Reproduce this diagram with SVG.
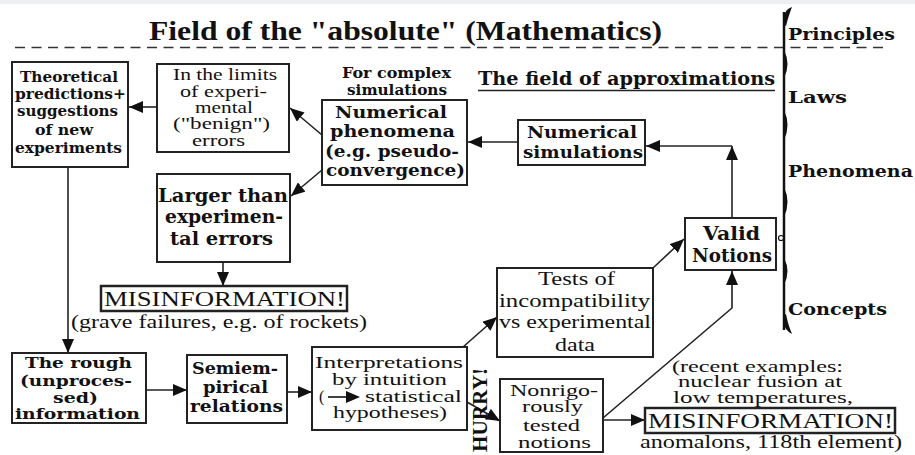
<svg xmlns="http://www.w3.org/2000/svg" width="915" height="455" viewBox="0 0 915 455">
<style>
.box{fill:#fff;stroke:#222;stroke-width:2}
.mis{fill:#fff;stroke:#222;stroke-width:2.5}
.b{font-family:"DejaVu Serif","Liberation Serif",serif;font-weight:bold;fill:#111}
.r{font-family:"Liberation Serif",serif;fill:#111}
.conn{stroke:#222;stroke-width:1.6;fill:none}
</style>
<defs>
<marker id="ah" viewBox="0 0 14 12" refX="14" refY="6" markerWidth="14" markerHeight="12" orient="auto" markerUnits="userSpaceOnUse"><path d="M0,0 L14,6 L0,12 z" fill="#111"/></marker>
</defs>
<rect x="0" y="0" width="915" height="455" fill="#fff"/>
<rect x="0" y="0" width="915" height="4" fill="#eceff2"/>

<g id="header">
<text class="b" x="149" y="40" font-size="28" textLength="513" lengthAdjust="spacingAndGlyphs" style="font-family:'Liberation Serif',serif">Field of the "absolute" (Mathematics)</text>
<line x1="15" y1="47.5" x2="883" y2="47.5" stroke="#333" stroke-width="1.6" stroke-dasharray="10,6.5"/>
<text class="b" x="478" y="85" font-size="18" textLength="297" lengthAdjust="spacingAndGlyphs">The field of approximations</text>
<line x1="478" y1="90.5" x2="775" y2="90.5" stroke="#222" stroke-width="1.5"/>
</g>

<g id="scale">
<line x1="784" y1="12" x2="784" y2="330" stroke="#111" stroke-width="2.5"/>
<path d="M783,24 C783,14 786,9 792,7 C790,12 788,18 786,26 z" fill="#111"/>
<path d="M784,50 Q791,64 784,78 z" fill="#111"/>
<path d="M784,110 Q791,125 784,140 z" fill="#111"/>
<path d="M784,187 Q791,202 784,217 z" fill="#111"/>
<path d="M784,258 Q791,271 784,285 z" fill="#111"/>
<path d="M783,316 C783,326 786,331 792,334 C790,329 788,324 786,314 z" fill="#111"/>
<circle cx="781" cy="238" r="2.5" fill="#fff" stroke="#111" stroke-width="1.2"/>
<text class="b" x="788" y="40" font-size="17" textLength="107" lengthAdjust="spacingAndGlyphs">Principles</text>
<text class="b" x="788" y="103" font-size="17" textLength="59" lengthAdjust="spacingAndGlyphs">Laws</text>
<text class="b" x="788" y="177" font-size="17" textLength="125" lengthAdjust="spacingAndGlyphs">Phenomena</text>
<text class="b" x="788" y="315" font-size="17" textLength="99" lengthAdjust="spacingAndGlyphs">Concepts</text>
</g>

<g id="connectors">
<path class="conn" d="M157,107 L129,107" marker-end="url(#ah)"/>
<path class="conn" d="M322,135 L290,108" marker-end="url(#ah)"/>
<path class="conn" d="M322,170 L291,196" marker-end="url(#ah)"/>
<path class="conn" d="M223,262 L223,286" marker-end="url(#ah)"/>
<path class="conn" d="M68,167 L68,353" marker-end="url(#ah)"/>
<path class="conn" d="M146,390 L187,390" marker-end="url(#ah)"/>
<path class="conn" d="M287,392 L312,392" marker-end="url(#ah)"/>
<path class="conn" d="M463,347 L497,317" marker-end="url(#ah)"/>
<path class="conn" d="M467,402 L500,421" marker-end="url(#ah)"/>
<path class="conn" d="M653,268 L684,239" marker-end="url(#ah)"/>
<path class="conn" d="M603,418 L732,308 L732,271" marker-end="url(#ah)"/>
<path class="conn" d="M603,420 L645,420" marker-end="url(#ah)"/>
<path class="conn" d="M518,142 L468,142" marker-end="url(#ah)"/>
<path class="conn" d="M732,218 L732,146" marker-end="url(#ah)"/>
<path class="conn" d="M732,146 L646,146" marker-end="url(#ah)"/>
</g>

<g id="theoretical">
<rect class="box" x="12" y="62" width="116" height="105"/>
<text class="b" font-size="15.5" x="20" y="82" textLength="98" lengthAdjust="spacingAndGlyphs">Theoretical</text>
<text class="b" font-size="15.5" x="15" y="99" textLength="111" lengthAdjust="spacingAndGlyphs">predictions+</text>
<text class="b" font-size="15.5" x="17" y="116" textLength="101" lengthAdjust="spacingAndGlyphs">suggestions</text>
<text class="b" font-size="15.5" x="35" y="135" textLength="58" lengthAdjust="spacingAndGlyphs">of new</text>
<text class="b" font-size="15.5" x="15" y="153" textLength="107" lengthAdjust="spacingAndGlyphs">experiments</text>
</g>

<g id="benign">
<rect class="box" x="157" y="64" width="132" height="88"/>
<text class="r" font-size="16" x="173" y="80" textLength="104" lengthAdjust="spacingAndGlyphs">In the limits</text>
<text class="r" font-size="16" x="180" y="97" textLength="87" lengthAdjust="spacingAndGlyphs">of experi-</text>
<text class="r" font-size="16" x="195" y="113" textLength="58" lengthAdjust="spacingAndGlyphs">mental</text>
<text class="r" font-size="16" x="173" y="129" textLength="97" lengthAdjust="spacingAndGlyphs">("benign")</text>
<text class="r" font-size="16" x="192" y="146" textLength="53" lengthAdjust="spacingAndGlyphs">errors</text>
</g>

<g id="numphen">
<text class="b" font-size="14" x="342" y="78" textLength="109" lengthAdjust="spacingAndGlyphs">For complex</text>
<text class="b" font-size="14" x="347" y="95" textLength="100" lengthAdjust="spacingAndGlyphs">simulations</text>
<rect class="box" x="322" y="100" width="145" height="85"/>
<text class="b" font-size="17.5" x="335" y="118" textLength="112" lengthAdjust="spacingAndGlyphs">Numerical</text>
<text class="b" font-size="17.5" x="330" y="137" textLength="125" lengthAdjust="spacingAndGlyphs">phenomena</text>
<text class="b" font-size="17.5" x="325" y="157" textLength="134" lengthAdjust="spacingAndGlyphs">(e.g. pseudo-</text>
<text class="b" font-size="17.5" x="326" y="176" textLength="139" lengthAdjust="spacingAndGlyphs">convergence)</text>
</g>

<g id="larger">
<rect class="box" x="157" y="174" width="133" height="88"/>
<text class="b" font-size="19" x="158" y="202" textLength="130" lengthAdjust="spacingAndGlyphs">Larger than</text>
<text class="b" font-size="19" x="165" y="223" textLength="118" lengthAdjust="spacingAndGlyphs">experimen-</text>
<text class="b" font-size="19" x="170" y="245" textLength="103" lengthAdjust="spacingAndGlyphs">tal errors</text>
</g>

<g id="misinfo1">
<rect class="mis" x="101" y="286" width="246" height="25"/>
<text class="r" font-size="22" x="104" y="306" textLength="241" lengthAdjust="spacingAndGlyphs">MISINFORMATION!</text>
<text class="r" font-size="18" x="71" y="328" textLength="296" lengthAdjust="spacingAndGlyphs">(grave failures, e.g. of rockets)</text>
</g>

<g id="rough">
<rect class="box" x="12" y="353" width="134" height="70"/>
<text class="b" font-size="15.5" x="25" y="368" textLength="107" lengthAdjust="spacingAndGlyphs">The rough</text>
<text class="b" font-size="15.5" x="20" y="386" textLength="112" lengthAdjust="spacingAndGlyphs">(unproces-</text>
<text class="b" font-size="15.5" x="53" y="403" textLength="45" lengthAdjust="spacingAndGlyphs">sed)</text>
<text class="b" font-size="15.5" x="15" y="419" textLength="125" lengthAdjust="spacingAndGlyphs">information</text>
</g>

<g id="semiempirical">
<rect class="box" x="187" y="355" width="100" height="68"/>
<text class="b" font-size="16.5" x="192" y="374" textLength="86" lengthAdjust="spacingAndGlyphs">Semiem-</text>
<text class="b" font-size="16.5" x="203" y="393" textLength="65" lengthAdjust="spacingAndGlyphs">pirical</text>
<text class="b" font-size="16.5" x="190" y="412" textLength="93" lengthAdjust="spacingAndGlyphs">relations</text>
</g>

<g id="interpretations">
<rect class="box" x="312" y="347" width="155" height="83"/>
<text class="r" font-size="16" x="315" y="368" textLength="148" lengthAdjust="spacingAndGlyphs">Interpretations</text>
<text class="r" font-size="16" x="332" y="385" textLength="115" lengthAdjust="spacingAndGlyphs">by intuition</text>
<text class="r" font-size="16" x="319" y="402">(</text>
<line x1="328" y1="397" x2="348" y2="397" stroke="#111" stroke-width="1.6"/>
<path d="M346,391 L360,397 L346,403 z" fill="#111"/>
<text class="r" font-size="16" x="365" y="402" textLength="97" lengthAdjust="spacingAndGlyphs">statistical</text>
<text class="r" font-size="16" x="333" y="418" textLength="114" lengthAdjust="spacingAndGlyphs">hypotheses)</text>
</g>

<g id="hurry">
<text class="b" font-size="21" transform="translate(487,452) rotate(-90)" x="0" y="0" textLength="84" lengthAdjust="spacingAndGlyphs" style="font-family:'Liberation Serif',serif">HURRY!</text>
</g>

<g id="tests">
<rect class="box" x="497" y="268" width="156" height="89"/>
<text class="r" font-size="18" x="538" y="285" textLength="77" lengthAdjust="spacingAndGlyphs">Tests of</text>
<text class="r" font-size="18" x="499" y="307" textLength="151" lengthAdjust="spacingAndGlyphs">incompatibility</text>
<text class="r" font-size="18" x="499" y="328" textLength="152" lengthAdjust="spacingAndGlyphs">vs experimental</text>
<text class="r" font-size="18" x="555" y="351" textLength="40" lengthAdjust="spacingAndGlyphs">data</text>
</g>

<g id="nonrigorous">
<rect class="box" x="500" y="379" width="103" height="73"/>
<text class="r" font-size="16" x="510" y="396" textLength="88" lengthAdjust="spacingAndGlyphs">Nonrigo-</text>
<text class="r" font-size="16" x="522" y="412" textLength="61" lengthAdjust="spacingAndGlyphs">rously</text>
<text class="r" font-size="16" x="523" y="431" textLength="57" lengthAdjust="spacingAndGlyphs">tested</text>
<text class="r" font-size="16" x="518" y="448" textLength="73" lengthAdjust="spacingAndGlyphs">notions</text>
</g>

<g id="valid">
<rect class="box" x="685" y="218" width="91" height="52"/>
<text class="b" font-size="18" x="703" y="240" textLength="57" lengthAdjust="spacingAndGlyphs">Valid</text>
<text class="b" font-size="18" x="692" y="262" textLength="80" lengthAdjust="spacingAndGlyphs">Notions</text>
</g>

<g id="numsim">
<rect class="box" x="518" y="120" width="127" height="45"/>
<text class="b" font-size="17.5" x="527" y="138" textLength="110" lengthAdjust="spacingAndGlyphs">Numerical</text>
<text class="b" font-size="17.5" x="523" y="158" textLength="120" lengthAdjust="spacingAndGlyphs">simulations</text>
</g>

<g id="misinfo2">
<text class="r" font-size="16" x="672" y="372" textLength="171" lengthAdjust="spacingAndGlyphs">(recent examples:</text>
<text class="r" font-size="16" x="678" y="387" textLength="164" lengthAdjust="spacingAndGlyphs">nuclear fusion at</text>
<text class="r" font-size="16" x="673" y="403" textLength="180" lengthAdjust="spacingAndGlyphs">low temperatures,</text>
<rect class="mis" x="645" y="408" width="250" height="25"/>
<text class="r" font-size="22" x="648" y="428" textLength="245" lengthAdjust="spacingAndGlyphs">MISINFORMATION!</text>
<text class="r" font-size="18" x="640" y="448" textLength="262" lengthAdjust="spacingAndGlyphs">anomalons, 118th element)</text>
</g>
</svg>
